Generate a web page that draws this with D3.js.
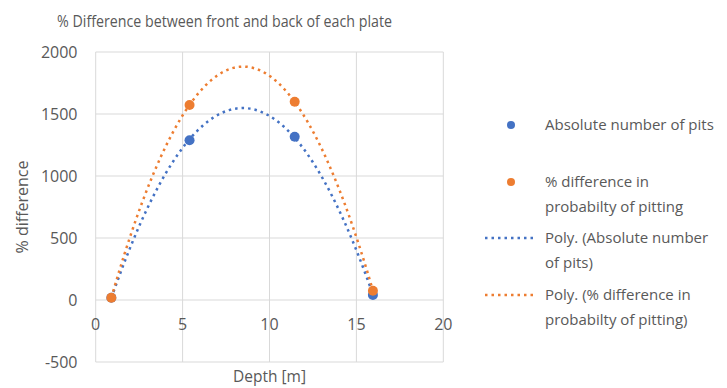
<!DOCTYPE html>
<html>
<head>
<meta charset="utf-8">
<script src="https://cdn.jsdelivr.net/npm/d3@7"></script>
<style>
  body { margin: 0; background: #fff; }
  text { font-family: "Open Sans", sans-serif; fill: #595959; }
</style>
</head>
<body>
<script>
// data
var depth = [0.9, 5.4, 11.45, 15.95];
var absPits = [18, 1288, 1317, 40];
var probPitting = [18, 1572, 1599, 75];
var xTicks = [0, 5, 10, 15, 20];
var yTicks = [-500, 0, 500, 1000, 1500, 2000];

var width = 727,
    height = 388;

var svg = d3.select("body")
    .append("svg")
    .attr("width", width)
    .attr("height", height);

var x = d3.scaleLinear().domain([0, 20]).range([95.7, 443.3]);
var y = d3.scaleLinear().domain([-500, 2000]).range([362, 52]);

//gridlines
svg.append("g")
    .selectAll("line")
    .data(yTicks)
    .enter()
    .append("line")
    .attr("x1", x(0)).attr("x2", x(20))
    .attr("y1", function(d){ return y(d); })
    .attr("y2", function(d){ return y(d); })
    .attr("stroke", "#d9d9d9")
    .attr("stroke-width", 1);

svg.append("g")
    .selectAll("line")
    .data(xTicks)
    .enter()
    .append("line")
    .attr("y1", y(-500)).attr("y2", y(2000))
    .attr("x1", function(d){ return x(d); })
    .attr("x2", function(d){ return x(d); })
    .attr("stroke", "#d9d9d9")
    .attr("stroke-width", 1);

//tick labels
svg.append("g")
    .selectAll("text")
    .data(yTicks)
    .enter()
    .append("text")
    .attr("x", 77.5)
    .attr("y", function(d){ return y(d); })
    .attr("dy", "0.35em")
    .attr("text-anchor", "end")
    .style("font-size", "16px")
    .text(function(d){ return d; });

svg.append("g")
    .selectAll("text")
    .data(xTicks)
    .enter()
    .append("text")
    .attr("x", function(d){ return x(d); })
    .attr("y", 324)
    .attr("dy", "0.35em")
    .attr("text-anchor", "middle")
    .style("font-size", "16px")
    .text(function(d){ return d; });

//least squares quadratic for the trendlines
function polyFit(xs, ys){
    var s = [0,0,0,0,0], t = [0,0,0];
    xs.forEach(function(xi, i){
        for (var k = 0; k < 5; k++) s[k] += Math.pow(xi, k);
        for (var k = 0; k < 3; k++) t[k] += ys[i] * Math.pow(xi, k);
    });
    var m = [[s[0], s[1], s[2], t[0]],
             [s[1], s[2], s[3], t[1]],
             [s[2], s[3], s[4], t[2]]];
    for (var i = 0; i < 3; i++){
        for (var j = i + 1; j < 3; j++){
            var f = m[j][i] / m[i][i];
            for (var k = i; k < 4; k++) m[j][k] -= f * m[i][k];
        }
    }
    var c = [0,0,0];
    for (var i = 2; i >= 0; i--){
        var v = m[i][3];
        for (var k = i + 1; k < 3; k++) v -= m[i][k] * c[k];
        c[i] = v / m[i][i];
    }
    return function(v){ return c[0] + c[1] * v + c[2] * v * v; };
}

var series = [
    {name: "Absolute number of pits", values: absPits, color: "#4472c4"},
    {name: "% difference in probabilty of pitting", values: probPitting, color: "#ed7d31"}
];

var line = d3.line()
    .x(function(d){ return x(d[0]); })
    .y(function(d){ return y(d[1]); });

series.forEach(function(s){
    var f = polyFit(depth, s.values);
    var pts = d3.range(0, 101).map(function(i){
        var v = depth[0] + (depth[depth.length - 1] - depth[0]) * i / 100;
        return [v, f(v)];
    });
    svg.append("path")
        .datum(pts)
        .attr("d", line)
        .attr("fill", "none")
        .attr("stroke", s.color)
        .attr("stroke-width", 2.5)
        .attr("stroke-dasharray", "2.5 4");
});

series.forEach(function(s){
    svg.append("g")
        .selectAll("circle")
        .data(depth)
        .enter()
        .append("circle")
        .attr("cx", function(d){ return x(d); })
        .attr("cy", function(d, i){ return y(s.values[i]); })
        .attr("r", 5)
        .attr("fill", s.color);
});

//titles
svg.append("text")
    .attr("x", 57)
    .attr("y", 21)
    .attr("dy", "0.35em")
    .attr("textLength", 335)
    .attr("lengthAdjust", "spacingAndGlyphs")
    .style("font-size", "17px")
    .text("% Difference between front and back of each plate");

svg.append("text")
    .attr("x", x(10))
    .attr("y", 377)
    .attr("dy", "0.35em")
    .attr("text-anchor", "middle")
    .style("font-size", "15.5px")
    .text("Depth [m]");

svg.append("text")
    .attr("transform", "translate(22,207) rotate(-90)")
    .attr("dy", "0.35em")
    .attr("text-anchor", "middle")
    .style("font-size", "16px")
    .text("% difference");

//legend
var legend = [
    {type: "dot", color: "#4472c4", y: 125, lines: ["Absolute number of pits"]},
    {type: "dot", color: "#ed7d31", y: 182, lines: ["% difference in", "probabilty of pitting"]},
    {type: "line", color: "#4472c4", y: 238, lines: ["Poly. (Absolute number", "of pits)"]},
    {type: "line", color: "#ed7d31", y: 295, lines: ["Poly. (% difference in", "probabilty of pitting)"]}
];

legend.forEach(function(l){
    if (l.type == "dot"){
        svg.append("circle")
            .attr("cx", 511).attr("cy", l.y).attr("r", 4)
            .attr("fill", l.color);
    } else {
        svg.append("line")
            .attr("x1", 485).attr("x2", 535)
            .attr("y1", l.y).attr("y2", l.y)
            .attr("stroke", l.color)
            .attr("stroke-width", 2.5)
            .attr("stroke-dasharray", "2.5 4");
    }
    l.lines.forEach(function(t, i){
        svg.append("text")
            .attr("x", 545)
            .attr("y", l.y + i * 25)
            .attr("dy", "0.35em")
            .style("font-size", "15px")
            .text(t);
    });
});
</script>
</body>
</html>
